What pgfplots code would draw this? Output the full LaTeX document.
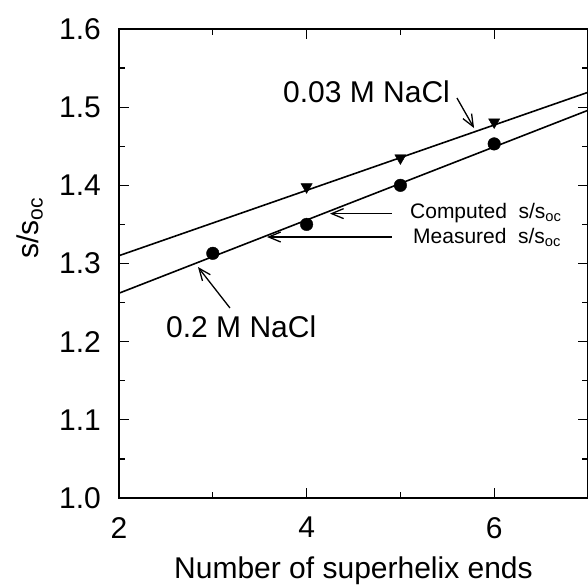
\documentclass[border=0pt]{standalone}
\usepackage{fontspec}
\setmainfont{Liberation Sans}
\usepackage{pgfplots}
\pgfplotsset{compat=1.18}
\usetikzlibrary{arrows.meta}
\begin{document}
\begin{tikzpicture}
\begin{axis}[
  scale only axis, width=469pt, height=469pt,
  at={(0,0)}, anchor=south west,
  xmin=2, xmax=7, ymin=1.0, ymax=1.6,
  xtick={2,4,6}, minor xtick={3,5},
  ytick={1.0,1.1,1.2,1.3,1.4,1.5,1.6},
  minor ytick={1.05,1.15,1.25,1.35,1.45,1.55},
  tick align=inside, major tick length=10pt, minor tick length=6pt,
  every tick/.style={black, line width=1.2pt},
  axis line style={line width=1.4pt},
  /pgf/number format/assume math mode=true,
  yticklabel style={/pgf/number format/fixed, /pgf/number format/fixed zerofill, /pgf/number format/precision=1},
  ticklabel style={font=\fontsize{30}{36}\selectfont},
  xticklabel style={inner sep=0pt, anchor=north, yshift=-19pt},
  yticklabel style={inner sep=0pt, anchor=east, xshift=-18pt},
  xlabel={Number of superhelix ends},
  ylabel={s/s\textsubscript{oc}},
  xlabel style={at={(axis description cs:0.5,0)}, anchor=base, yshift=-80pt, inner sep=0pt, font=\fontsize{30}{36}\selectfont},
  ylabel style={at={(axis description cs:-0.19,0.576)}, anchor=center, inner sep=0pt, font=\fontsize{30}{36}\selectfont},
  clip=false,
]
\addplot[black, line width=1.6pt, no marks] coordinates {(2,1.310) (7,1.519)};
\addplot[black, line width=1.6pt, no marks] coordinates {(2,1.262) (7,1.496)};
\addplot[only marks, mark=triangle*, mark options={rotate=180, fill=black, draw=black}, mark size=6.5pt] coordinates {(4,1.398) (5,1.435) (6,1.481)};
\addplot[only marks, mark=*, mark options={fill=black, draw=black}, mark size=6.3pt] coordinates {(3,1.313) (4,1.350) (5,1.400) (6,1.453)};

\node[anchor=base west, inner sep=0pt, font=\fontsize{30}{36}\selectfont] at (axis cs:3.748,1.5066) {0.03 M NaCl};
\node[anchor=base west, inner sep=0pt, font=\fontsize{30}{36}\selectfont] at (axis cs:2.501,1.2047) {0.2 M NaCl};
\node[anchor=base west, inner sep=0pt, font=\fontsize{21}{25}\selectfont] at (axis cs:5.102,1.3582) {Computed\hspace{0.55em}s/s\textsubscript{oc}};
\node[anchor=base west, inner sep=0pt, font=\fontsize{21}{25}\selectfont] at (axis cs:5.134,1.3262) {Measured\hspace{0.55em}s/s\textsubscript{oc}};

\draw[line width=1.3pt, -{Straight Barb[length=12pt,width=10pt,line width=1.3pt]}] (axis cs:4.910,1.3638) -- (axis cs:4.249,1.3638);
\draw[line width=1.3pt, -{Straight Barb[length=12pt,width=10pt,line width=1.3pt]}] (axis cs:4.910,1.3339) -- (axis cs:3.578,1.3339);
\draw[line width=1.3pt, -{Straight Barb[length=12pt,width=10pt,line width=1.3pt]}] (axis cs:5.603,1.5117) -- (axis cs:5.785,1.4733);
\draw[line width=1.3pt, -{Straight Barb[length=12pt,width=10pt,line width=1.3pt]}] (axis cs:3.183,1.2431) -- (axis cs:2.842,1.2955);
\end{axis}
\pgfresetboundingbox
\path (-119pt,-87pt) rectangle (469pt,498pt);
\end{tikzpicture}
\end{document}
